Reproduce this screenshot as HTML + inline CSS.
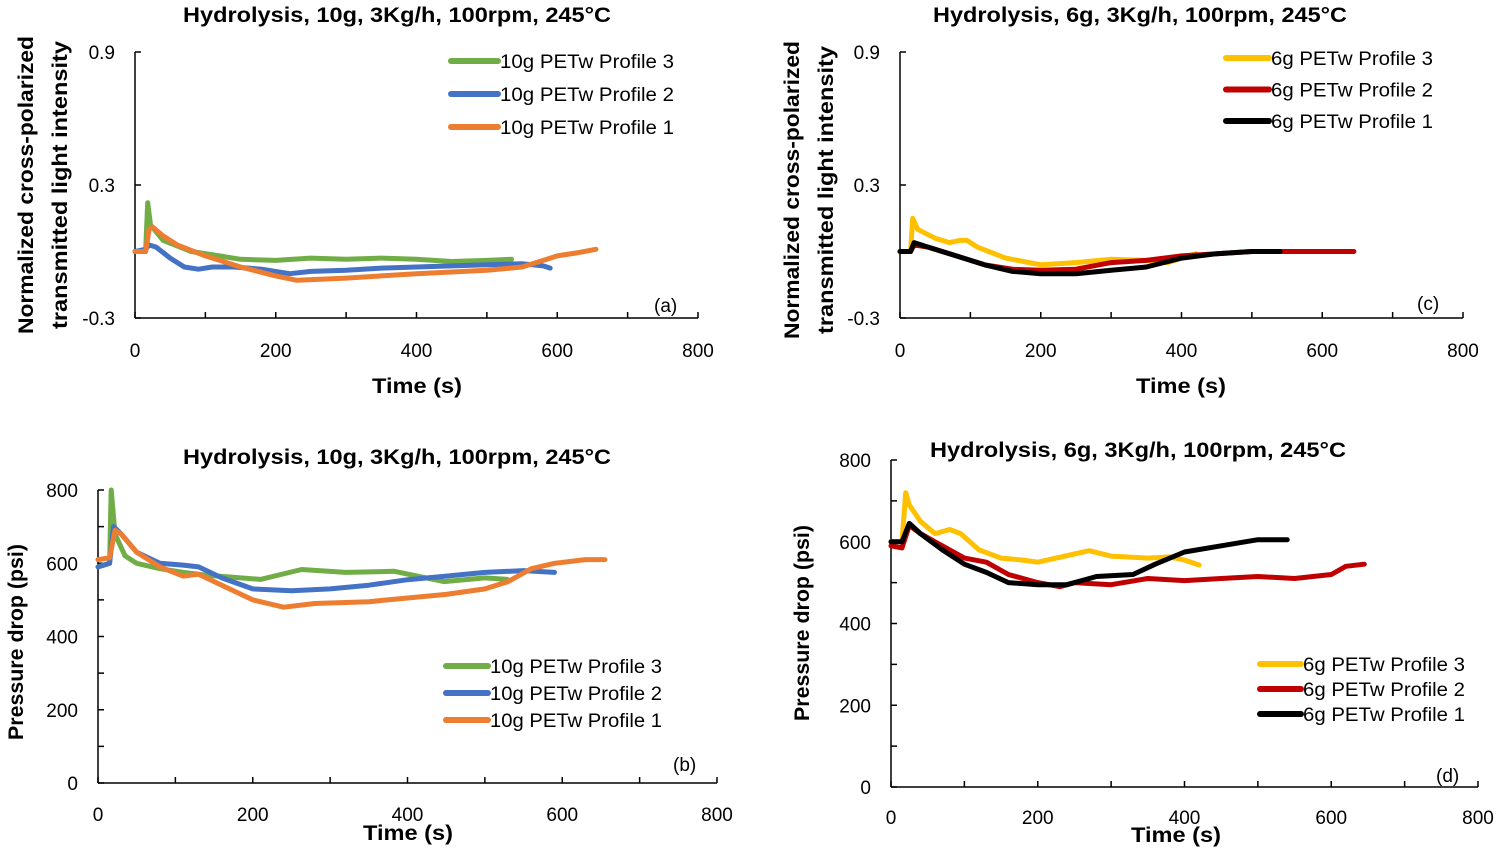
<!DOCTYPE html>
<html><head><meta charset="utf-8"><style>
html,body{margin:0;padding:0;background:#fff}
svg{display:block;font-family:"Liberation Sans",sans-serif}
.t{font-weight:bold;font-size:21px}
.tk{font-size:19px}
.lg{font-size:19px}
</style></head><body>
<svg id="s" width="1500" height="848" viewBox="0 0 1500 848"></svg>
<script>
// ---- Panel (a) data: normalized intensity ----
const aP3t=[0,15,18,22,40,80,120,150,200,250,300,350,400,450,500,535];
const aP3v=[0,0,0.22,0.12,0.05,0,-0.02,-0.035,-0.04,-0.03,-0.035,-0.03,-0.035,-0.045,-0.04,-0.035];
const aP2t=[0,15,20,30,50,70,90,110,140,180,220,250,300,350,400,450,500,550,580,590];
const aP2v=[0,0.01,0.03,0.02,-0.03,-0.07,-0.08,-0.07,-0.07,-0.08,-0.1,-0.09,-0.085,-0.075,-0.07,-0.065,-0.06,-0.055,-0.065,-0.075];
const aP1t=[0,15,20,25,40,60,100,150,200,230,300,400,500,550,580,600,630,655];
const aP1v=[0,0,0.1,0.11,0.07,0.03,-0.02,-0.07,-0.11,-0.13,-0.12,-0.1,-0.085,-0.07,-0.04,-0.02,-0.005,0.01];
// ---- Panel (b) data: pressure drop ----
const bP3t=[0,15,17,22,35,50,80,110,142,210,263,320,383,447,500,529];
const bP3v=[590,600,800,680,620,600,585,575,567,556,583,575,578,550,560,556];
const bP2t=[0,15,20,30,50,80,110,130,160,200,250,300,350,400,450,500,550,590];
const bP2v=[590,600,700,680,630,600,595,590,560,530,525,530,540,555,565,575,580,575];
const bP1t=[0,15,22,30,50,80,110,130,160,200,240,280,350,400,450,500,530,560,590,630,655];
const bP1v=[610,615,690,680,630,590,565,570,540,500,480,490,495,505,515,530,550,585,600,610,610];
// ---- Panel (c) data ----
const cP3t=[0,15,18,25,50,70,85,95,110,150,200,250,300,350,380,400,420];
const cP3v=[0,0,0.15,0.1,0.06,0.04,0.05,0.05,0.02,-0.03,-0.06,-0.05,-0.035,-0.04,-0.05,-0.03,-0.01];
const cP2t=[0,15,20,40,80,120,160,200,250,300,350,400,450,500,550,600,645];
const cP2v=[0,0,0.03,0.02,-0.02,-0.06,-0.08,-0.085,-0.08,-0.05,-0.04,-0.02,-0.01,0,0,0,0];
const cP1t=[0,15,20,40,80,120,160,200,250,300,350,400,450,500,540];
const cP1v=[0,0,0.04,0.02,-0.02,-0.06,-0.09,-0.1,-0.1,-0.085,-0.07,-0.03,-0.01,0,0];
// ---- Panel (d) data ----
const dP3t=[0,15,20,25,40,60,80,95,120,150,180,200,250,270,300,350,380,400,420];
const dP3v=[600,600,720,690,650,620,630,620,580,560,555,550,570,578,565,560,563,555,543];
const dP2t=[0,15,25,40,60,80,100,130,160,200,230,250,300,350,400,450,500,550,600,620,645];
const dP2v=[590,585,640,620,600,580,560,550,520,500,490,500,495,510,505,510,515,510,520,540,545];
const dP1t=[0,15,25,40,70,100,130,160,200,240,280,330,360,400,450,500,540];
const dP1v=[600,600,645,620,580,545,525,500,495,495,515,520,545,575,590,605,605];
const xTicks=[0,200,400,600,800];
const aTicks=[0.9,0.3,-0.3];
const bTicks=[0,200,400,600,800];

const NS="http://www.w3.org/2000/svg";
const svg=document.getElementById('s');
function el(tag,attrs,parent,text){const e=document.createElementNS(NS,tag);for(const k in attrs)e.setAttribute(k,attrs[k]);if(text!==undefined)e.textContent=text;(parent||svg).appendChild(e);return e;}

function panel(cfg){
  const g=el('g',{});
  
  
  const X=v=>cfg.x0+(v-0)/800*(cfg.x1-cfg.x0);
  const Y=v=>cfg.yb+(v-cfg.ymin)/(cfg.ymax-cfg.ymin)*(cfg.yt-cfg.yb);
  const ax=el('line',{x1:cfg.x0,y1:cfg.yt,x2:cfg.x0,y2:cfg.yb,stroke:'#000','stroke-width':1.5},g);
  
  
  const xx=el('line',{x1:cfg.x0,y1:cfg.yb,x2:cfg.x1,y2:cfg.yb,stroke:'#000','stroke-width':1.5},g);
  
  
  for(let v=0;v<=800;v+=100){el('line',{x1:X(v),y1:cfg.yb,x2:X(v),y2:cfg.yb-6,stroke:'#000','stroke-width':1.5},g);}
  cfg.yminor.forEach(v=>el('line',{x1:cfg.x0,y1:Y(v),x2:cfg.x0+6,y2:Y(v),stroke:'#000','stroke-width':1.5},g));
  xTicks.forEach(v=>{const t=el('text',{x:X(v),y:cfg.xly,'text-anchor':'middle',class:'tk'},g,String(v));
    
    });
  cfg.yticks.forEach(v=>{const t=el('text',{x:cfg.x0-20,y:Y(v)+7,'text-anchor':'end',class:'tk'},g,String(v));
    
    });
  cfg.series.forEach((s,i)=>{
    const pts=s.t.map((t,j)=>X(t).toFixed(1)+','+Y(s.v[j]).toFixed(1)).join(' ');
    const p=el('polyline',{points:pts,fill:'none',stroke:s.c,'stroke-width':5,'stroke-linejoin':'round','stroke-linecap':'round'},g);
    
    
  });
  cfg.series.forEach((s,i)=>{
    const ly=cfg.leg.y+i*cfg.leg.dy;
    const l=el('line',{x1:cfg.leg.x,y1:ly,x2:cfg.leg.x+cfg.leg.w,y2:ly,stroke:s.c,'stroke-width':6,'stroke-linecap':'round'},g);
    
    
    const t=el('text',{x:cfg.leg.x+cfg.leg.w+2,y:ly+7,class:'lg',textLength:cfg.leg.tl,lengthAdjust:'spacingAndGlyphs'},g,s.label);
    
    
  });
  const ti=el('text',{x:cfg.title[0],y:cfg.title[1],'text-anchor':'middle',class:'t',textLength:cfg.title[2],lengthAdjust:'spacingAndGlyphs'},g,cfg.titleText);
  
  
  const xt=el('text',{x:cfg.xt[0],y:cfg.xt[1],'text-anchor':'middle',class:'t','font-size':'23',textLength:90,lengthAdjust:'spacingAndGlyphs'},g,'Time (s)');
  
  
  cfg.yt2.forEach(([x,y,txt,len])=>{const t=el('text',{x:x,y:y,'text-anchor':'middle',class:'t','font-size':'22',textLength:len,lengthAdjust:'spacingAndGlyphs',transform:`rotate(-90 ${x} ${y})`},g,txt);
    
    });
  const pl=el('text',{x:cfg.pl[0],y:cfg.pl[1],class:'tk','font-size':'21'},g,cfg.plText);
  
  
}
const T10='Hydrolysis, 10g, 3Kg/h, 100rpm, 245°C', T6='Hydrolysis, 6g, 3Kg/h, 100rpm, 245°C';
const YT=['Normalized cross-polarized','transmitted light intensity'];
panel({name:'panel-a',x0:135,x1:698,yt:52,yb:318,ymin:-0.3,ymax:0.9,yminor:aTicks,yticks:aTicks,xly:357,
  series:[{key:'10g-p3',t:aP3t,v:aP3v,c:'#70ad47',label:'10g PETw Profile 3'},{key:'10g-p2',t:aP2t,v:aP2v,c:'#4472c4',label:'10g PETw Profile 2'},{key:'10g-p1',t:aP1t,v:aP1v,c:'#ed7d31',label:'10g PETw Profile 1'}],
  leg:{x:451,y:61,dy:33,w:47,tl:174},title:[397,22,428],titleText:T10,xt:[417,393],yt2:[[33,185,YT[0],298],[67,185,YT[1],288]],pl:[654,312],plText:'(a)'});
panel({name:'panel-c',x0:900,x1:1463,yt:52,yb:318,ymin:-0.3,ymax:0.9,yminor:aTicks,yticks:aTicks,xly:357,
  series:[{key:'6g-p3',t:cP3t,v:cP3v,c:'#ffc000',label:'6g PETw Profile 3'},{key:'6g-p2',t:cP2t,v:cP2v,c:'#c00000',label:'6g PETw Profile 2'},{key:'6g-p1',t:cP1t,v:cP1v,c:'#000000',label:'6g PETw Profile 1'}],
  leg:{x:1226,y:58,dy:31.5,w:43,tl:162},title:[1140,22,414],titleText:T6,xt:[1181,393],yt2:[[799,190,YT[0],298],[833,190,YT[1],288]],pl:[1417,310],plText:'(c)'});
panel({name:'panel-b',x0:98,x1:717,yt:490,yb:783,ymin:0,ymax:800,yminor:[0,100,200,300,400,500,600,700,800],yticks:bTicks,xly:821,
  series:[{key:'10g-p3',t:bP3t,v:bP3v,c:'#70ad47',label:'10g PETw Profile 3'},{key:'10g-p2',t:bP2t,v:bP2v,c:'#4472c4',label:'10g PETw Profile 2'},{key:'10g-p1',t:bP1t,v:bP1v,c:'#ed7d31',label:'10g PETw Profile 1'}],
  leg:{x:446,y:666,dy:27,w:42,tl:172},title:[397,464,428],titleText:T10,xt:[408,840],yt2:[[23,642,'Pressure drop (psi)',196]],pl:[673,771],plText:'(b)'});
panel({name:'panel-d',x0:891,x1:1478,yt:460,yb:787,ymin:0,ymax:800,yminor:[0,100,200,300,400,500,600,700,800],yticks:bTicks,xly:824,
  series:[{key:'6g-p3',t:dP3t,v:dP3v,c:'#ffc000',label:'6g PETw Profile 3'},{key:'6g-p2',t:dP2t,v:dP2v,c:'#c00000',label:'6g PETw Profile 2'},{key:'6g-p1',t:dP1t,v:dP1v,c:'#000000',label:'6g PETw Profile 1'}],
  leg:{x:1260,y:664,dy:25,w:41,tl:162},title:[1138,457,416],titleText:T6,xt:[1176,842],yt2:[[809,623,'Pressure drop (psi)',196]],pl:[1436,782],plText:'(d)'});
</script>
</body></html>
